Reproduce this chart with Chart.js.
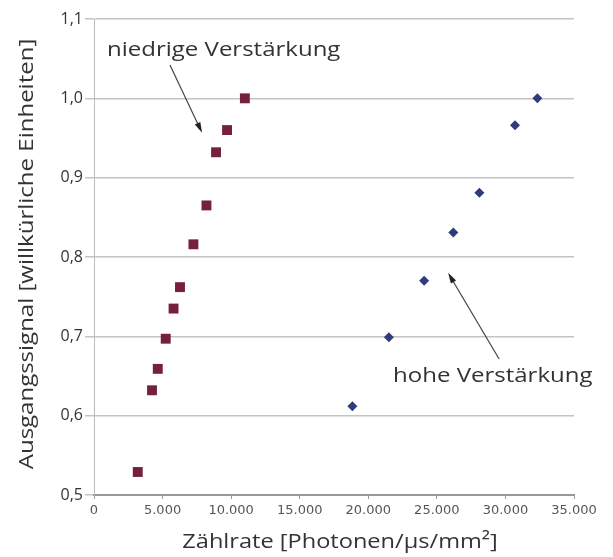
<!DOCTYPE html>
<html>
<head>
<meta charset="utf-8">
<script src="https://cdn.jsdelivr.net/npm/chart.js@4.4.0/dist/chart.umd.min.js"></script>
<style>
  html, body { margin: 0; padding: 0; background: #fff; }
  #wrap { width: 613px; height: 557px; }
</style>
</head>
<body>
<div id="wrap"><canvas id="c" width="613" height="557"></canvas></div>
<script>
// niedrige Verstärkung (Quadrate)
const lowX = [3190, 4230, 4650, 5230, 5800, 6270, 7250, 8200, 8900, 9700, 11000];
const lowY = [0.529, 0.632, 0.659, 0.697, 0.735, 0.762, 0.816, 0.865, 0.932, 0.960, 1.000];
// hohe Verstärkung (Rauten)
const highX = [18840, 21500, 24070, 26200, 28100, 30700, 32330];
const highY = [0.612, 0.699, 0.770, 0.831, 0.881, 0.966, 1.000];

const xTicks = [0, 5000, 10000, 15000, 20000, 25000, 30000, 35000];
const yTicks = [0.5, 0.6, 0.7, 0.8, 0.9, 1.0, 1.1];

const xTitle = 'Zählrate [Photonen/µs/mm²]';
const yTitle = 'Ausgangssignal [willkürliche Einheiten]';

// Beschriftungen in Datenkoordinaten
const notes = [
    { text: 'niedrige Verstärkung', x: 950, y: 1.061, fromX: 5540, fromY: 1.042, toX: 7880, toY: 0.9565 },
    { text: 'hohe Verstärkung', x: 21810, y: 0.649, fromX: 29540, fromY: 0.6715, toX: 25820, toY: 0.780 }
];

const FONT = "'Open Sans', 'DejaVu Sans', sans-serif";
const TEXT = '#333';

const toPts = (xs, ys) => xs.map((x, i) => ({ x: x, y: ys[i] }));
const fmtX = v => String(v).replace(/\B(?=(\d{3})+(?!\d))/g, '.');
const fmtY = v => v.toFixed(1).replace('.', ',');

// Schrift der Vorlage ist breiter -> horizontal strecken
function wideText(ctx, text, x, y, sx, rot) {
    ctx.save();
    ctx.translate(x, y);
    if (rot) ctx.rotate(rot);
    ctx.scale(sx, 1);
    ctx.fillText(text, 0, 0);
    ctx.restore();
}

const textPlugin = {
    id: 'texts',
    afterDatasetsDraw(chart) {
        const { ctx, chartArea, scales: { x, y } } = chart;
        ctx.save();
        ctx.textBaseline = 'middle';

        notes.forEach(n => {
            ctx.font = '20px ' + FONT;
            ctx.textAlign = 'left';
            ctx.fillStyle = TEXT;
            wideText(ctx, n.text, x.getPixelForValue(n.x), y.getPixelForValue(n.y), 1.2);

            const x1 = x.getPixelForValue(n.fromX), y1 = y.getPixelForValue(n.fromY);
            const x2 = x.getPixelForValue(n.toX), y2 = y.getPixelForValue(n.toY);
            const a = Math.atan2(y2 - y1, x2 - x1);
            ctx.strokeStyle = '#444';
            ctx.lineWidth = 1.2;
            ctx.beginPath();
            ctx.moveTo(x1, y1);
            ctx.lineTo(x2 - 6 * Math.cos(a), y2 - 6 * Math.sin(a));
            ctx.stroke();
            ctx.fillStyle = '#222';
            ctx.beginPath();
            ctx.moveTo(x2, y2);
            ctx.lineTo(x2 - 11 * Math.cos(a - 0.28), y2 - 11 * Math.sin(a - 0.28));
            ctx.lineTo(x2 - 11 * Math.cos(a + 0.28), y2 - 11 * Math.sin(a + 0.28));
            ctx.closePath();
            ctx.fill();
        });

        // Achsentitel
        ctx.fillStyle = TEXT;
        ctx.textAlign = 'center';
        ctx.font = '20.5px ' + FONT;
        wideText(ctx, xTitle, (chartArea.left + chartArea.right) / 2 + 6, 542, 1.15);
        ctx.font = '20px ' + FONT;
        wideText(ctx, yTitle, 27, 254, 1.2, -Math.PI / 2);
        ctx.restore();
    }
};

new Chart(document.getElementById('c'), {
    type: 'scatter',
    data: {
        datasets: [
            { label: 'niedrige Verstärkung', data: toPts(lowX, lowY), pointStyle: 'rect', pointRadius: 7, pointHoverRadius: 7,
              backgroundColor: '#762040', borderWidth: 0 },
            { label: 'hohe Verstärkung', data: toPts(highX, highY), pointStyle: 'rectRot', pointRadius: 5, pointHoverRadius: 5,
              backgroundColor: '#2e3c7c', borderWidth: 0 }
        ]
    },
    options: {
        responsive: false,
        animation: false,
        layout: { padding: { top: 19, right: 39, left: 0, bottom: 0 } },
        plugins: { legend: { display: false }, tooltip: { enabled: false } },
        scales: {
            x: {
                type: 'linear', min: 0, max: 35000,
                afterBuildTicks: s => { s.ticks = xTicks.map(v => ({ value: v })); },
                afterFit: s => { s.height = 62; },
                grid: { display: true, drawOnChartArea: false, color: '#999', tickLength: 4 },
                border: { color: '#999', width: 2 },
                ticks: { color: '#555', font: { family: "'DejaVu Sans', sans-serif", size: 13 }, padding: 4, maxRotation: 0, callback: v => fmtX(v) },
                title: { display: false }
            },
            y: {
                type: 'linear', min: 0.5, max: 1.1,
                afterBuildTicks: s => { s.ticks = yTicks.map(v => ({ value: v })); },
                afterFit: s => { s.width = 94; },
                grid: { color: '#c4c4c4', lineWidth: 1.5, tickLength: 9 },
                border: { color: '#bbb', width: 1 },
                ticks: { color: TEXT, font: { family: FONT, size: 16 }, padding: 2, callback: v => fmtY(v) },
                title: { display: false }
            }
        }
    },
    plugins: [textPlugin]
});
</script>
</body>
</html>
